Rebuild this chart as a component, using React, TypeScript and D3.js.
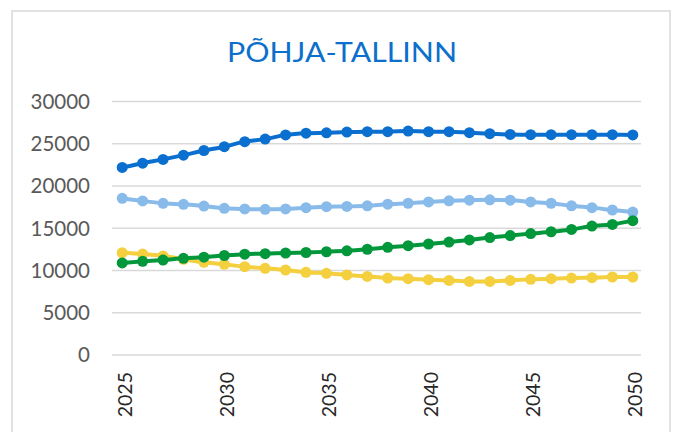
import React from "react";
import * as d3 from "d3";

const years: number[] = [2025, 2026, 2027, 2028, 2029, 2030, 2031, 2032, 2033, 2034, 2035, 2036, 2037, 2038, 2039, 2040, 2041, 2042, 2043, 2044, 2045, 2046, 2047, 2048, 2049, 2050];
const xTickLabels: number[] = [2025, 2030, 2035, 2040, 2045, 2050];
const yTicks: number[] = [0, 5000, 10000, 15000, 20000, 25000, 30000];

const darkBlue: number[] = [22200, 22700, 23150, 23650, 24200, 24650, 25250, 25550, 26050, 26250, 26300, 26380, 26430, 26430, 26500, 26430, 26430, 26310, 26190, 26100, 26070, 26070, 26070, 26070, 26070, 26050];
const lightBlue: number[] = [18540, 18230, 17950, 17830, 17630, 17360, 17280, 17240, 17280, 17430, 17550, 17580, 17650, 17850, 17960, 18120, 18240, 18320, 18360, 18320, 18120, 17960, 17650, 17440, 17160, 16920];
const yellow: number[] = [12100, 11950, 11720, 11330, 10970, 10730, 10450, 10260, 10060, 9790, 9670, 9480, 9300, 9100, 9030, 8910, 8830, 8710, 8710, 8830, 8950, 9030, 9100, 9150, 9230, 9230];
const green: number[] = [10890, 11080, 11240, 11440, 11575, 11775, 11935, 11995, 12070, 12130, 12220, 12330, 12515, 12740, 12940, 13135, 13370, 13615, 13895, 14130, 14365, 14585, 14864, 15254, 15456, 15900];

const title = "PÕHJA-TALLINN";

const series = [
  { name: "darkBlue", values: darkBlue, color: "#0A6FCF" },
  { name: "lightBlue", values: lightBlue, color: "#88BBEA" },
  { name: "yellow", values: yellow, color: "#F4CF3E" },
  { name: "green", values: green, color: "#03973B" },
];

export default function App() {
  const W = 676, H = 432;
  const plotLeft = 112, plotRight = 643;
  const x = d3.scaleBand<number>().domain(years).range([plotLeft, plotRight]);
  const cx = (yr: number) => (x(yr) as number) + x.bandwidth() / 2;
  const y = d3.scaleLinear().domain([0, 30000]).range([355, 101.5]);
  const line = d3.line<number>()
    .x((_, i) => cx(years[i]))
    .y((d) => y(d))
    .curve(d3.curveMonotoneX);
  const font = "Lato, 'Open Sans', sans-serif";

  return (
    <svg width={W} height={H} style={{ position: "absolute", left: 0, top: 0, background: "#fff" }}>
      <rect x={0} y={0} width={W} height={H} fill="#fff" />
      <rect x={12} y={11} width={658} height={440} fill="#fff" stroke="#D9D9D9" strokeWidth={1.5} />
      <text x={342} y={62} textAnchor="middle" fontFamily={font} fontSize={27} fill="#0B6FCB" textLength={230} lengthAdjust="spacingAndGlyphs">{title}</text>
      {yTicks.map((t) => (
        <g key={t}>
          <line x1={plotLeft} x2={plotRight - 2} y1={y(t)} y2={y(t)} stroke="#D9D9D9" strokeWidth={1.3} />
          <text x={90} y={y(t)} dy="0.36em" textAnchor="end" fontFamily={font} fontSize={20.5} fill="#595959">{t}</text>
        </g>
      ))}
      {xTickLabels.map((t) => (
        <text key={t} transform={`translate(${cx(t) + 2},372) rotate(-90)`} textAnchor="end" dominantBaseline="central" fontFamily={font} fontSize={19.5} fill="#262626">{t}</text>
      ))}
      {series.map((s) => (
        <g key={s.name}>
          <path d={line(s.values) || ""} fill="none" stroke={s.color} strokeWidth={4} />
          {s.values.map((v, i) => (
            <circle key={i} cx={cx(years[i])} cy={y(v)} r={5.5} fill={s.color} />
          ))}
        </g>
      ))}
    </svg>
  );
}
